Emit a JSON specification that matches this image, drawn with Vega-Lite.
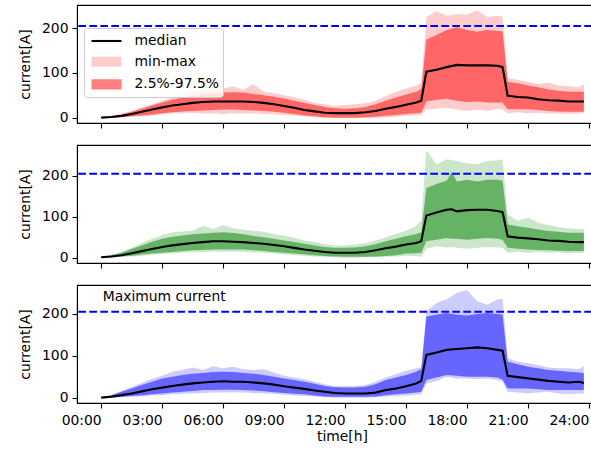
{
"$schema": "https://vega.github.io/schema/vega-lite/v6.json",
"padding": {"left": 17, "top": 4, "right": 0, "bottom": 0},
"spacing": 22,
"bounds": "flush",
"config": {
  "font": "DejaVu Sans",
  "view": {"stroke": "#000000", "strokeWidth": 1.1},
  "axis": {"grid": false, "domainColor": "#000000", "domainWidth": 1.1, "tickColor": "#000000", "tickWidth": 1.1, "tickSize": 5, "labelFontSize": 13.9, "labelColor": "#000000", "titleFontSize": 13.9, "titleFontWeight": "normal", "titleColor": "#000000", "labelFont": "DejaVu Sans", "titleFont": "DejaVu Sans"},
  "axisY": {"labelPadding": 4, "titlePadding": 9},
  "axisX": {"labelPadding": 5, "titlePadding": 3},
  "legend": {"orient": "none", "legendX": 7, "legendY": 23, "fillColor": "rgba(255,255,255,0.8)", "strokeColor": "#cccccc", "cornerRadius": 3, "padding": 4, "labelFontSize": 13.9, "labelFont": "DejaVu Sans", "labelColor": "#000000", "symbolSize": 225, "symbolStrokeWidth": 2.1, "labelOffset": 19, "symbolOffset": 9.5, "rowPadding": 4.7}
},
"datasets": {
"red": [
{"t":0,"md":0,"lo":0,"hi":1,"mn":0,"mx":1},
{"t":0.5,"md":1.5,"lo":0.5,"hi":3,"mn":0,"mx":4},
{"t":1,"md":4,"lo":1.5,"hi":7,"mn":1,"mx":9},
{"t":1.5,"md":8,"lo":3,"hi":13,"mn":2,"mx":15},
{"t":2,"md":13,"lo":5,"hi":20,"mn":3,"mx":23},
{"t":2.5,"md":18,"lo":7,"hi":27,"mn":5,"mx":30},
{"t":3,"md":23,"lo":10,"hi":34,"mn":7,"mx":38},
{"t":3.5,"md":27,"lo":12,"hi":40,"mn":9,"mx":45},
{"t":4,"md":30,"lo":14,"hi":45,"mn":10,"mx":52},
{"t":4.5,"md":33,"lo":15,"hi":49,"mn":11,"mx":58},
{"t":5,"md":35,"lo":16,"hi":52,"mn":9,"mx":62},
{"t":5.5,"md":36,"lo":17,"hi":54,"mn":10,"mx":68},
{"t":6,"md":36,"lo":18,"hi":56,"mn":8,"mx":65},
{"t":6.5,"md":36,"lo":18,"hi":57,"mn":10,"mx":70},
{"t":7,"md":36,"lo":17,"hi":56,"mn":9,"mx":62},
{"t":7.5,"md":35,"lo":16,"hi":53,"mn":10,"mx":75},
{"t":8,"md":33,"lo":15,"hi":50,"mn":8,"mx":58},
{"t":8.5,"md":30,"lo":13,"hi":47,"mn":7,"mx":55},
{"t":9,"md":26,"lo":11,"hi":43,"mn":6,"mx":50},
{"t":9.5,"md":22,"lo":8,"hi":38,"mn":4,"mx":45},
{"t":10,"md":17,"lo":5,"hi":33,"mn":3,"mx":40},
{"t":10.5,"md":14,"lo":3,"hi":28,"mn":1,"mx":33},
{"t":11,"md":11,"lo":1,"hi":24,"mn":0,"mx":30},
{"t":11.5,"md":10,"lo":0,"hi":21,"mn":0,"mx":26},
{"t":12,"md":10,"lo":0,"hi":20,"mn":0,"mx":28},
{"t":12.5,"md":10,"lo":0,"hi":21,"mn":0,"mx":30},
{"t":13,"md":12,"lo":1,"hi":24,"mn":0,"mx":32},
{"t":13.5,"md":15,"lo":2,"hi":30,"mn":0,"mx":38},
{"t":14,"md":20,"lo":4,"hi":38,"mn":1,"mx":48},
{"t":14.5,"md":24,"lo":6,"hi":45,"mn":2,"mx":58},
{"t":15,"md":29,"lo":8,"hi":52,"mn":4,"mx":65},
{"t":15.5,"md":34,"lo":10,"hi":58,"mn":5,"mx":72},
{"t":15.75,"md":38,"lo":11,"hi":64,"mn":6,"mx":78},
{"t":16,"md":103,"lo":36,"hi":175,"mn":18,"mx":225},
{"t":16.5,"md":107,"lo":40,"hi":185,"mn":20,"mx":238},
{"t":17,"md":113,"lo":42,"hi":196,"mn":22,"mx":228},
{"t":17.5,"md":118,"lo":38,"hi":202,"mn":18,"mx":232},
{"t":18,"md":117,"lo":35,"hi":196,"mn":15,"mx":230},
{"t":18.5,"md":117,"lo":36,"hi":192,"mn":18,"mx":240},
{"t":19,"md":117,"lo":34,"hi":196,"mn":15,"mx":225},
{"t":19.5,"md":116,"lo":34,"hi":194,"mn":20,"mx":228},
{"t":19.75,"md":113,"lo":34,"hi":193,"mn":18,"mx":226},
{"t":20,"md":49,"lo":19,"hi":80,"mn":10,"mx":88},
{"t":20.5,"md":46,"lo":19,"hi":77,"mn":12,"mx":85},
{"t":21,"md":45,"lo":19,"hi":72,"mn":10,"mx":80},
{"t":21.5,"md":41,"lo":17,"hi":68,"mn":11,"mx":75},
{"t":22,"md":39,"lo":15,"hi":63,"mn":9,"mx":78},
{"t":22.5,"md":38,"lo":14,"hi":60,"mn":9,"mx":72},
{"t":23,"md":36,"lo":13,"hi":58,"mn":8,"mx":70},
{"t":23.5,"md":36,"lo":13,"hi":58,"mn":9,"mx":68},
{"t":23.75,"md":36,"lo":13,"hi":58,"mn":10,"mx":75}
],
"green": [
{"t":0,"md":1,"lo":0,"hi":2,"mn":0,"mx":2},
{"t":0.5,"md":3,"lo":1,"hi":6,"mn":0,"mx":7},
{"t":1,"md":6,"lo":3,"hi":12,"mn":2,"mx":14},
{"t":1.5,"md":11,"lo":5,"hi":21,"mn":3,"mx":24},
{"t":2,"md":16,"lo":8,"hi":30,"mn":5,"mx":36},
{"t":2.5,"md":21,"lo":10,"hi":39,"mn":7,"mx":46},
{"t":3,"md":26,"lo":12,"hi":46,"mn":9,"mx":55},
{"t":3.5,"md":30,"lo":14,"hi":51,"mn":11,"mx":62},
{"t":4,"md":33,"lo":16,"hi":54,"mn":12,"mx":64},
{"t":4.5,"md":36,"lo":18,"hi":57,"mn":13,"mx":66},
{"t":5,"md":38,"lo":19,"hi":59,"mn":14,"mx":78},
{"t":5.5,"md":40,"lo":20,"hi":61,"mn":15,"mx":70},
{"t":6,"md":40,"lo":20,"hi":62,"mn":14,"mx":80},
{"t":6.5,"md":39,"lo":20,"hi":60,"mn":15,"mx":72},
{"t":7,"md":38,"lo":20,"hi":57,"mn":14,"mx":68},
{"t":7.5,"md":36,"lo":18,"hi":53,"mn":13,"mx":66},
{"t":8,"md":34,"lo":16,"hi":50,"mn":12,"mx":63},
{"t":8.5,"md":31,"lo":14,"hi":46,"mn":10,"mx":58},
{"t":9,"md":28,"lo":12,"hi":42,"mn":8,"mx":54},
{"t":9.5,"md":24,"lo":10,"hi":38,"mn":6,"mx":48},
{"t":10,"md":20,"lo":8,"hi":34,"mn":5,"mx":42},
{"t":10.5,"md":17,"lo":6,"hi":30,"mn":3,"mx":38},
{"t":11,"md":14,"lo":4,"hi":26,"mn":2,"mx":33},
{"t":11.5,"md":12,"lo":3,"hi":24,"mn":1,"mx":30},
{"t":12,"md":12,"lo":2,"hi":24,"mn":0,"mx":30},
{"t":12.5,"md":12,"lo":2,"hi":25,"mn":0,"mx":32},
{"t":13,"md":14,"lo":2,"hi":28,"mn":1,"mx":35},
{"t":13.5,"md":18,"lo":3,"hi":33,"mn":1,"mx":42},
{"t":14,"md":23,"lo":4,"hi":40,"mn":2,"mx":50},
{"t":14.5,"md":27,"lo":6,"hi":46,"mn":3,"mx":58},
{"t":15,"md":32,"lo":10,"hi":52,"mn":5,"mx":66},
{"t":15.5,"md":36,"lo":11,"hi":58,"mn":4,"mx":78},
{"t":15.75,"md":40,"lo":12,"hi":62,"mn":2,"mx":90},
{"t":16,"md":103,"lo":40,"hi":170,"mn":22,"mx":262},
{"t":16.5,"md":110,"lo":44,"hi":180,"mn":28,"mx":228},
{"t":17,"md":117,"lo":48,"hi":188,"mn":25,"mx":240},
{"t":17.25,"md":118,"lo":46,"hi":210,"mn":26,"mx":238},
{"t":17.5,"md":113,"lo":46,"hi":186,"mn":24,"mx":236},
{"t":18,"md":116,"lo":44,"hi":190,"mn":22,"mx":230},
{"t":18.5,"md":117,"lo":46,"hi":186,"mn":24,"mx":228},
{"t":19,"md":117,"lo":48,"hi":190,"mn":26,"mx":236},
{"t":19.5,"md":114,"lo":46,"hi":190,"mn":25,"mx":238},
{"t":19.75,"md":111,"lo":44,"hi":188,"mn":24,"mx":240},
{"t":20,"md":52,"lo":24,"hi":81,"mn":12,"mx":105},
{"t":20.5,"md":49,"lo":22,"hi":77,"mn":15,"mx":90},
{"t":21,"md":47,"lo":20,"hi":73,"mn":12,"mx":98},
{"t":21.5,"md":45,"lo":19,"hi":69,"mn":14,"mx":85},
{"t":22,"md":42,"lo":18,"hi":65,"mn":12,"mx":80},
{"t":22.5,"md":41,"lo":17,"hi":63,"mn":13,"mx":74},
{"t":23,"md":39,"lo":16,"hi":61,"mn":11,"mx":72},
{"t":23.5,"md":38,"lo":16,"hi":61,"mn":12,"mx":70},
{"t":23.75,"md":38,"lo":16,"hi":61,"mn":12,"mx":70}
],
"blue": [
{"t":0,"md":0,"lo":0,"hi":1,"mn":0,"mx":1},
{"t":0.5,"md":2,"lo":1,"hi":6,"mn":0,"mx":7},
{"t":1,"md":6,"lo":2,"hi":14,"mn":1,"mx":16},
{"t":1.5,"md":10,"lo":4,"hi":22,"mn":2,"mx":26},
{"t":2,"md":15,"lo":6,"hi":30,"mn":3,"mx":35},
{"t":2.5,"md":20,"lo":8,"hi":38,"mn":5,"mx":45},
{"t":3,"md":24,"lo":10,"hi":46,"mn":6,"mx":52},
{"t":3.5,"md":28,"lo":12,"hi":50,"mn":8,"mx":62},
{"t":4,"md":31,"lo":14,"hi":54,"mn":9,"mx":66},
{"t":4.5,"md":34,"lo":16,"hi":57,"mn":10,"mx":72},
{"t":5,"md":36,"lo":18,"hi":59,"mn":11,"mx":66},
{"t":5.5,"md":38,"lo":18,"hi":61,"mn":12,"mx":75},
{"t":6,"md":39,"lo":19,"hi":62,"mn":12,"mx":70},
{"t":6.5,"md":38,"lo":19,"hi":61,"mn":13,"mx":74},
{"t":7,"md":38,"lo":18,"hi":59,"mn":12,"mx":68},
{"t":7.5,"md":36,"lo":17,"hi":57,"mn":11,"mx":66},
{"t":8,"md":34,"lo":15,"hi":54,"mn":10,"mx":68},
{"t":8.5,"md":31,"lo":13,"hi":50,"mn":9,"mx":60},
{"t":9,"md":27,"lo":11,"hi":46,"mn":7,"mx":52},
{"t":9.5,"md":24,"lo":9,"hi":42,"mn":5,"mx":48},
{"t":10,"md":21,"lo":8,"hi":38,"mn":4,"mx":44},
{"t":10.5,"md":17,"lo":5,"hi":33,"mn":3,"mx":38},
{"t":11,"md":14,"lo":3,"hi":28,"mn":1,"mx":32},
{"t":11.5,"md":11,"lo":2,"hi":25,"mn":0,"mx":28},
{"t":12,"md":10,"lo":2,"hi":24,"mn":0,"mx":27},
{"t":12.5,"md":10,"lo":2,"hi":24,"mn":0,"mx":28},
{"t":13,"md":10,"lo":2,"hi":26,"mn":0,"mx":30},
{"t":13.5,"md":12,"lo":3,"hi":32,"mn":1,"mx":38},
{"t":14,"md":18,"lo":6,"hi":42,"mn":2,"mx":48},
{"t":14.5,"md":22,"lo":8,"hi":48,"mn":4,"mx":56},
{"t":15,"md":27,"lo":10,"hi":54,"mn":5,"mx":64},
{"t":15.5,"md":34,"lo":12,"hi":62,"mn":7,"mx":70},
{"t":15.75,"md":40,"lo":14,"hi":68,"mn":8,"mx":72},
{"t":16,"md":102,"lo":42,"hi":194,"mn":34,"mx":206},
{"t":16.5,"md":108,"lo":48,"hi":198,"mn":40,"mx":226},
{"t":17,"md":114,"lo":54,"hi":202,"mn":50,"mx":235},
{"t":17.5,"md":116,"lo":52,"hi":198,"mn":46,"mx":250},
{"t":18,"md":118,"lo":50,"hi":196,"mn":46,"mx":257},
{"t":18.5,"md":120,"lo":50,"hi":200,"mn":44,"mx":230},
{"t":19,"md":118,"lo":50,"hi":202,"mn":46,"mx":222},
{"t":19.5,"md":114,"lo":48,"hi":200,"mn":42,"mx":235},
{"t":19.75,"md":112,"lo":43,"hi":198,"mn":38,"mx":236},
{"t":20,"md":52,"lo":22,"hi":86,"mn":14,"mx":94},
{"t":20.5,"md":49,"lo":22,"hi":80,"mn":12,"mx":86},
{"t":21,"md":46,"lo":22,"hi":74,"mn":10,"mx":82},
{"t":21.5,"md":43,"lo":20,"hi":70,"mn":12,"mx":78},
{"t":22,"md":40,"lo":18,"hi":66,"mn":14,"mx":72},
{"t":22.5,"md":38,"lo":18,"hi":64,"mn":10,"mx":70},
{"t":23,"md":36,"lo":18,"hi":62,"mn":8,"mx":70},
{"t":23.5,"md":38,"lo":18,"hi":60,"mn":10,"mx":68},
{"t":23.75,"md":35,"lo":18,"hi":58,"mn":10,"mx":75}
]
},
"vconcat": [
{
  "width": 515, "height": 118,
  "data": {"name": "red"},
  "layer": [
    {"mark": {"type": "area", "opacity": 0.2, "color": "#ff0000"},
     "encoding": {
       "x": {"field": "t", "type": "quantitative", "scale": {"domain": [-1.19, 24.15], "nice": false, "zero": false}, "axis": {"values": [0,3,6,9,12,15,18,21,24], "labels": false, "title": null}},
       "y": {"field": "mn", "type": "quantitative", "scale": {"domain": [-12, 252], "nice": false, "zero": false}, "axis": {"values": [0,100,200], "title": "current[A]"}},
       "y2": {"field": "mx"}
     }},
    {"mark": {"type": "area", "opacity": 0.5, "color": "#ff0000"},
     "encoding": {
       "x": {"field": "t", "type": "quantitative"},
       "y": {"field": "lo", "type": "quantitative"},
       "y2": {"field": "hi"}
     }},
    {"mark": {"type": "line", "strokeWidth": 2.1, "color": "#000000"},
     "encoding": {
       "x": {"field": "t", "type": "quantitative"},
       "y": {"field": "md", "type": "quantitative"}
     }},
    {"data": {"values": [{"v": 205}]},
     "mark": {"type": "rule", "color": "#0000ff", "strokeDash": [7.7, 3.3], "strokeWidth": 2.1},
     "encoding": {"y": {"field": "v", "type": "quantitative"}}},
    {"data": {"values": [{"s": "median"}, {"s": "min-max"}, {"s": "2.5%-97.5%"}]},
     "mark": {"type": "point", "filled": false, "opacity": 0},
     "encoding": {
       "stroke": {"field": "s", "type": "nominal", "scale": {"domain": ["median", "min-max", "2.5%-97.5%"], "range": ["#000000", "rgba(255,0,0,0.2)", "rgba(255,0,0,0.5)"]}, "legend": {"title": null, "orient": "none", "legendX": 7, "legendY": 23, "symbolSize": 225, "symbolStrokeWidth": 2.1, "labelOffset": 19, "symbolOffset": 9.5, "rowPadding": 4.7, "padding": 4}},
       "shape": {"field": "s", "type": "nominal", "scale": {"domain": ["median", "min-max", "2.5%-97.5%"], "range": ["M-2,0H2", "M-2,-0.533H2M-2,-0.267H2M-2,0H2M-2,0.267H2M-2,0.533H2", "M-2,-0.533H2M-2,-0.267H2M-2,0H2M-2,0.267H2M-2,0.533H2"]}, "legend": {"title": null}}
     }}
  ]
},
{
  "width": 515, "height": 118,
  "data": {"name": "green"},
  "layer": [
    {"mark": {"type": "area", "opacity": 0.2, "color": "#008000"},
     "encoding": {
       "x": {"field": "t", "type": "quantitative", "scale": {"domain": [-1.19, 24.15], "nice": false, "zero": false}, "axis": {"values": [0,3,6,9,12,15,18,21,24], "labels": false, "title": null}},
       "y": {"field": "mn", "type": "quantitative", "scale": {"domain": [-13, 275], "nice": false, "zero": false}, "axis": {"values": [0,100,200], "title": "current[A]"}},
       "y2": {"field": "mx"}
     }},
    {"mark": {"type": "area", "opacity": 0.5, "color": "#008000"},
     "encoding": {
       "x": {"field": "t", "type": "quantitative"},
       "y": {"field": "lo", "type": "quantitative"},
       "y2": {"field": "hi"}
     }},
    {"mark": {"type": "line", "strokeWidth": 2.1, "color": "#000000"},
     "encoding": {
       "x": {"field": "t", "type": "quantitative"},
       "y": {"field": "md", "type": "quantitative"}
     }},
    {"data": {"values": [{"v": 205}]},
     "mark": {"type": "rule", "color": "#0000ff", "strokeDash": [7.7, 3.3], "strokeWidth": 2.1},
     "encoding": {"y": {"field": "v", "type": "quantitative"}}}
  ]
},
{
  "width": 515, "height": 118,
  "data": {"name": "blue"},
  "layer": [
    {"mark": {"type": "area", "opacity": 0.2, "color": "#0000ff"},
     "encoding": {
       "x": {"field": "t", "type": "quantitative", "scale": {"domain": [-1.19, 24.15], "nice": false, "zero": false}, "axis": {"values": [0,3,6,9,12,15,18,21,24], "title": "time[h]", "titleX": 265, "labelAlign": "right", "labelExpr": "(datum.value < 10 ? '0' : '') + datum.value + ':00'"}},
       "y": {"field": "mn", "type": "quantitative", "scale": {"domain": [-12.8, 269], "nice": false, "zero": false}, "axis": {"values": [0,100,200], "title": "current[A]"}},
       "y2": {"field": "mx"}
     }},
    {"mark": {"type": "area", "opacity": 0.5, "color": "#0000ff"},
     "encoding": {
       "x": {"field": "t", "type": "quantitative"},
       "y": {"field": "lo", "type": "quantitative"},
       "y2": {"field": "hi"}
     }},
    {"mark": {"type": "line", "strokeWidth": 2.1, "color": "#000000"},
     "encoding": {
       "x": {"field": "t", "type": "quantitative"},
       "y": {"field": "md", "type": "quantitative"}
     }},
    {"data": {"values": [{"v": 205}]},
     "mark": {"type": "rule", "color": "#0000ff", "strokeDash": [7.7, 3.3], "strokeWidth": 2.1},
     "encoding": {"y": {"field": "v", "type": "quantitative"}}},
    {"data": {"values": [{"t": 0, "v": 240, "s": "Maximum current"}]},
     "mark": {"type": "text", "align": "left", "baseline": "middle", "fontSize": 13.9, "color": "#000000", "dx": 1.5},
     "encoding": {"x": {"field": "t", "type": "quantitative"}, "y": {"field": "v", "type": "quantitative"}, "text": {"field": "s"}}}
  ]
}
]
}
